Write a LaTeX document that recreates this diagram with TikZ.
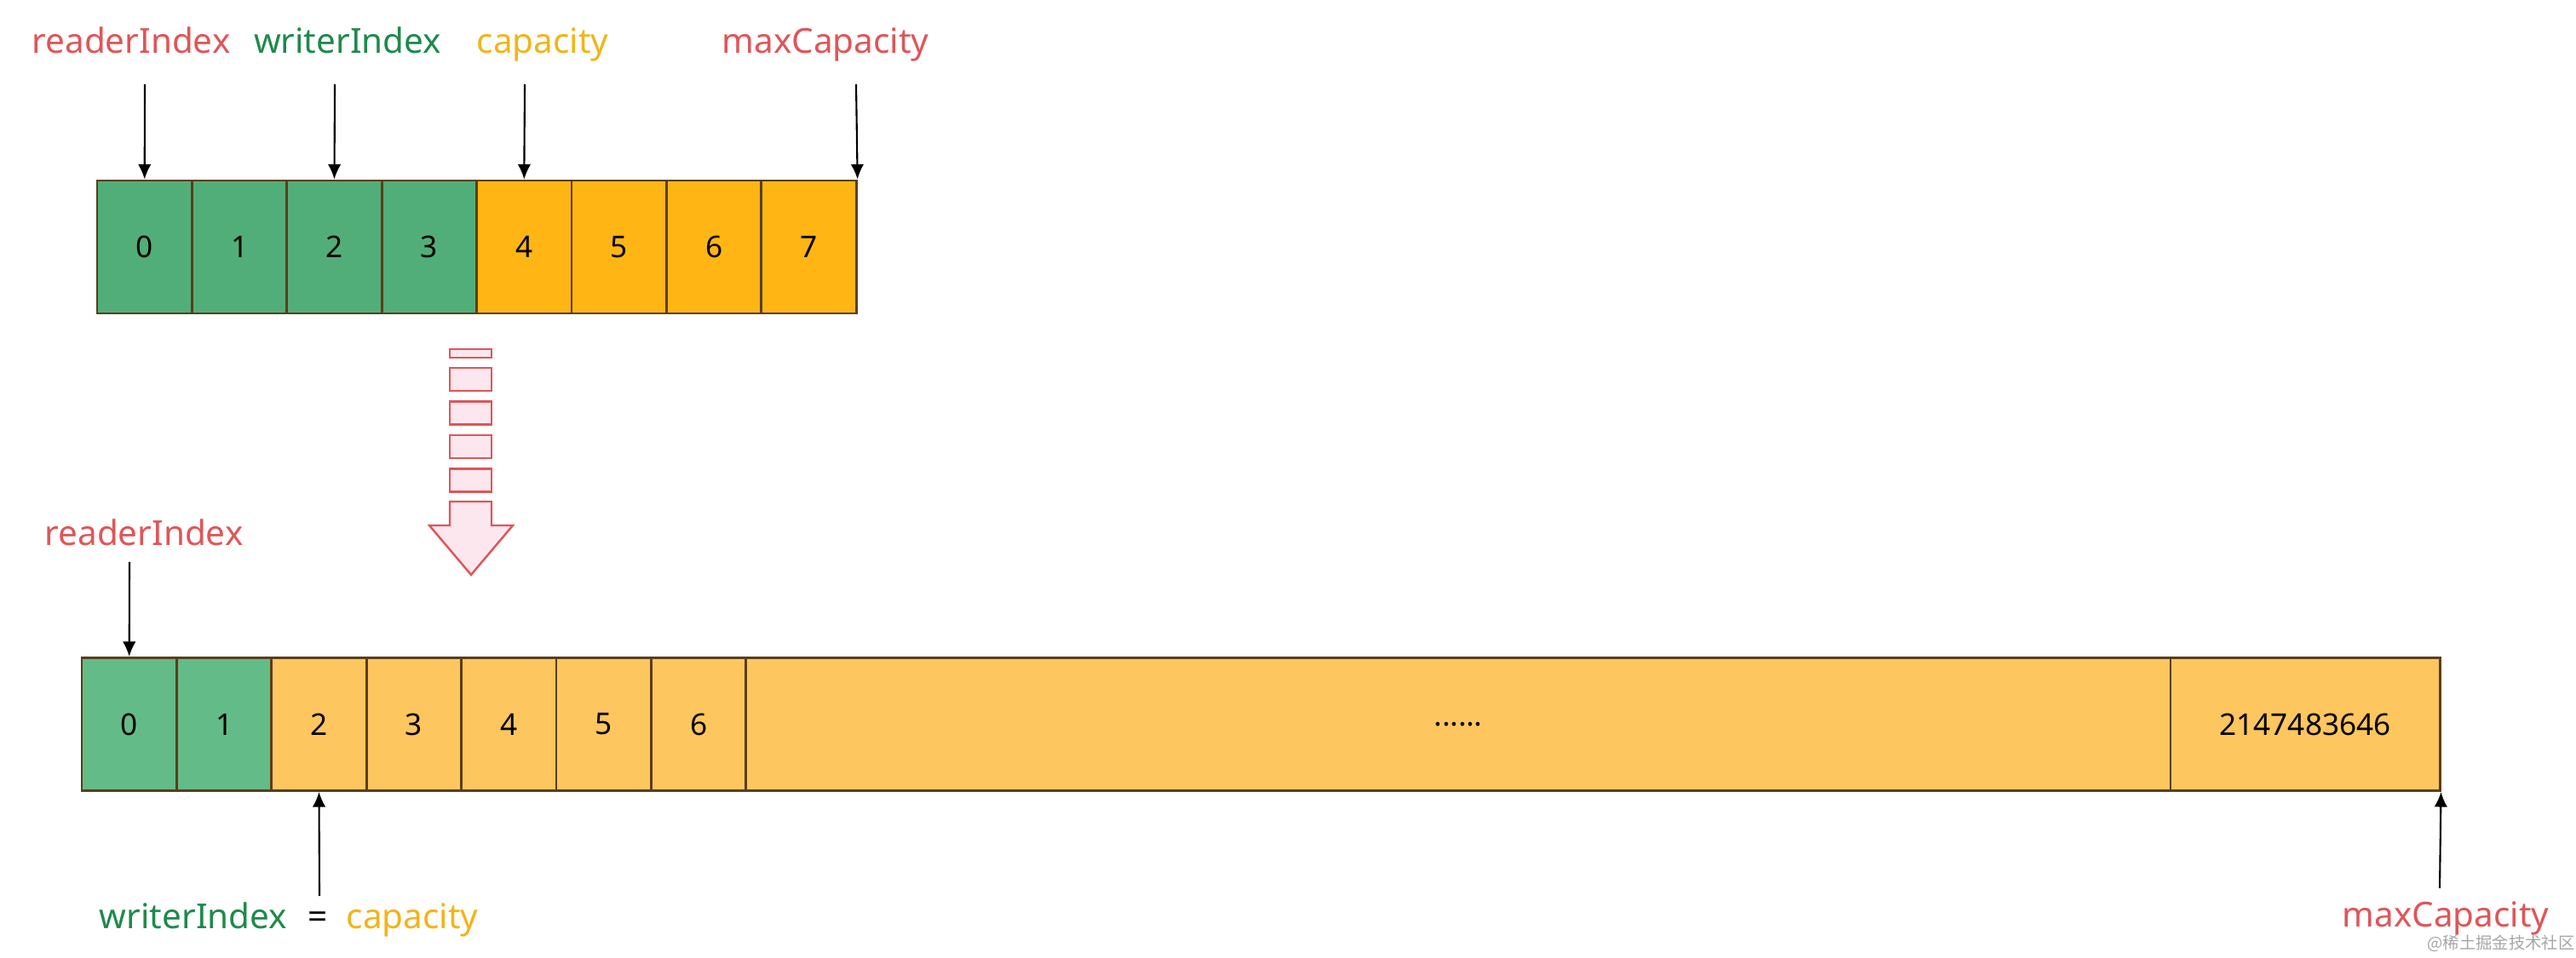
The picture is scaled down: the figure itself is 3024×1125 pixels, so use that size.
\documentclass[tikz,border=0pt]{standalone}
\usepackage{fontspec}
\setmainfont{Noto Sans}
\newfontfamily\cjk{Noto Sans CJK SC}
\usetikzlibrary{arrows.meta}

\definecolor{idxred}{HTML}{E05558}
\definecolor{idxgreen}{HTML}{1E8A4C}
\definecolor{idxyellow}{HTML}{F2B418}
\definecolor{usedgreen}{HTML}{52AE78}
\definecolor{freeorange}{HTML}{FFB614}
\definecolor{newgreen}{HTML}{63BC87}
\definecolor{neworange}{HTML}{FEC65E}
\definecolor{cellline}{HTML}{5A3E1B}
\definecolor{flowpink}{HTML}{FDE7EE}

\tikzset{
  cell/.style={draw=cellline, line width=0.8pt, minimum width=1.114cm, minimum height=1.56cm,
    inner sep=0pt, font=\fontsize{10}{12}\selectfont},
  idx/.style={font=\fontsize{11.5}{14}\selectfont, inner sep=0pt, anchor=base},
  ptr/.style={line width=0.6pt, -{Latex[length=5pt,width=4.4pt]}},
  flow/.style={draw=idxred, fill=flowpink, line width=0.7pt}
}

\begin{document}
\begin{tikzpicture}[x=0.01cm, y=-0.01cm]
      \useasboundingbox (0,0) rectangle (3024,1125);
      % old buffer, 8 bytes
      \foreach \i in {0,...,7} {
        \ifnum\i<4 \def\c{usedgreen}\else\def\c{freeorange}\fi
        \node[cell, fill=\c] (t\i) at ({114+111.4*(\i+0.5)},290) {\i};
      }
      \node[idx, text=idxred] (rlab) at (154,63) {readerIndex};
      \node[idx, text=idxgreen] (wlab) at (408,63) {writerIndex};
      \node[idx, text=idxyellow] (clab) at (637,63) {capacity};
      \node[idx, text=idxred] (mlab) at (969,63) {maxCapacity};
      \coordinate (ra) at (170,99);
      \coordinate (wa) at (393,99);
      \coordinate (ca) at (616,99);
      \coordinate (ma) at (1005,99);
      \draw[ptr] (ra) -- (t0.north);
      \draw[ptr] (wa) -- (t2.north);
      \draw[ptr] (ca) -- (t4.north);
      \draw[ptr] (ma) -- (t7.north east);
      % expansion
      \draw[flow] (528,410) rectangle (577,420);
      \foreach \y in {432,471.5,511,550.5} {
        \draw[flow] (528,\y) rectangle (577,\y+27);
      }
      \draw[flow] (528,589) -- (577,589) -- (577,617) -- (602,617) -- (553,675)
        -- (504,617) -- (528,617) -- cycle;
      % new buffer
      \foreach \i in {0,...,6} {
        \ifnum\i<2 \def\c{newgreen}\else\def\c{neworange}\fi
        \node[cell, fill=\c] (b\i) at ({96+111.4*(\i+0.5)},850.5) {\i};
      }
      \node[cell, fill=neworange, minimum width=16.72cm] (bdots) at (1712,850.5) {......};
      \node[cell, fill=neworange, minimum width=3.16cm] (blast) at (2706,850.5) {2147483646};
      \node[idx, text=idxred] (rlab2) at (169,641) {readerIndex};
      \node[idx, text=idxgreen] (wlab2) at (227,1090) {writerIndex};
      \node[idx] (eq) at (373,1090) {=};
      \node[idx, text=idxyellow] (clab2) at (484,1090) {capacity};
      \node[idx, text=idxred] (mlab2) at (2871,1088) {maxCapacity};
      \coordinate (rb) at (152,660);
      \coordinate (wb) at (375,1052);
      \coordinate (mb) at (2864,1043);
      \draw[ptr] (rb) -- (b0.north);
      \draw[ptr] (wb) -- (b2.south);
      \draw[ptr] (mb) -- (blast.south east);
      \node[font=\cjk\fontsize{5.5}{6}\selectfont, text=black!35, inner sep=0pt] (wm) at (2936,1108) {@稀土掘金技术社区};
    \end{tikzpicture}
\end{document}
